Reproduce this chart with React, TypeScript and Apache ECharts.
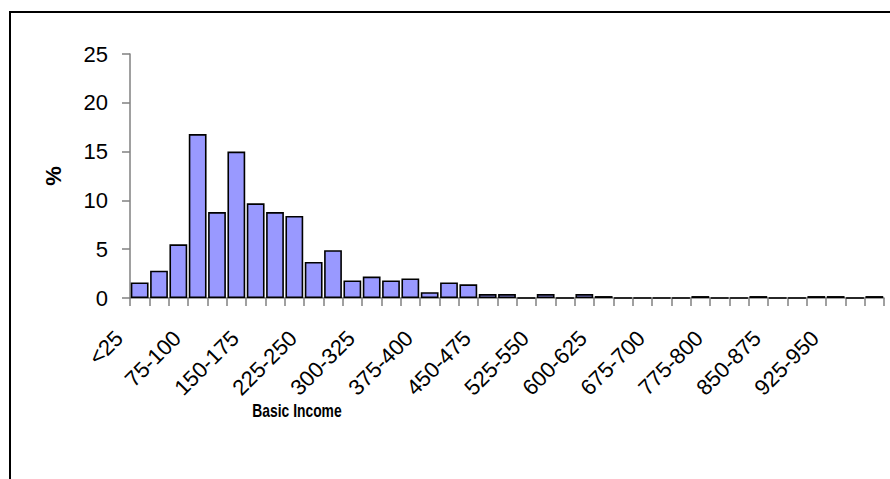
import React, { useEffect, useRef } from "react";
import * as echarts from "echarts";

// Income bands (every band is 25 wide; one band between 700 and 775 is not reported)
const categories: string[] = [
  "<25", "25-50", "50-75", "75-100", "100-125", "125-150", "150-175", "175-200",
  "200-225", "225-250", "250-275", "275-300", "300-325", "325-350", "350-375",
  "375-400", "400-425", "425-450", "450-475", "475-500", "500-525", "525-550",
  "550-575", "575-600", "600-625", "625-650", "650-675", "675-700", "725-750",
  "750-775", "775-800", "800-825", "825-850", "850-875", "875-900", "900-925",
  "925-950", "950-975", "975-1000",
];

// Share of recipients in each band, %
const shares: number[] = [
  1.6, 2.8, 5.5, 16.8, 8.8, 15.0, 9.7, 8.8,
  8.4, 3.7, 4.9, 1.8, 2.2, 1.8, 2.0,
  0.6, 1.6, 1.4, 0.4, 0.4, 0, 0.4,
  0, 0.4, 0.2, 0, 0, 0, 0,
  0.2, 0, 0, 0.2, 0, 0, 0.2,
  0.2, 0, 0.2,
];

const yTicks = { min: 0, max: 25, interval: 5 };
const xTitle = "Basic Income";
const yTitle = "%";

const FONT = "'Liberation Sans', Arial, Helvetica, sans-serif";

export default function App() {
  const ref = useRef<HTMLDivElement>(null);

  useEffect(() => {
    if (!ref.current) return;
    const chart = echarts.init(ref.current, null, { renderer: "svg" });
    chart.setOption({
      animation: false,
      backgroundColor: "#ffffff",
      grid: { left: 130, right: 6, top: 54, bottom: 181, containLabel: false },
      xAxis: {
        type: "category",
        data: categories,
        boundaryGap: true,
        axisLine: { show: true, lineStyle: { color: "#808080", width: 1.5 } },
        axisTick: {
          show: true,
          alignWithLabel: false,
          interval: 0,
          length: 8,
          lineStyle: { color: "#808080", width: 1.5 },
        },
        axisLabel: {
          interval: 2,
          rotate: 45,
          margin: 16,
          padding: [0, 29, 0, 0],
          color: "#000",
          fontFamily: FONT,
          fontSize: 22,
        },
        splitLine: { show: false },
      },
      yAxis: {
        type: "value",
        min: yTicks.min,
        max: yTicks.max,
        interval: yTicks.interval,
        name: yTitle,
        nameLocation: "middle",
        nameGap: 66,
        nameRotate: 90,
        nameTextStyle: { fontFamily: FONT, fontSize: 22, fontWeight: "bold", color: "#000" },
        axisLine: { show: true, lineStyle: { color: "#808080", width: 1.5 } },
        axisTick: { show: true, inside: false, length: 8, lineStyle: { color: "#808080", width: 1.5 } },
        axisLabel: { margin: 22, color: "#000", fontFamily: FONT, fontSize: 22 },
        splitLine: { show: false },
      },
      series: [
        {
          type: "bar",
          data: shares,
          barCategoryGap: "8%",
          itemStyle: { color: "#9999FF", borderColor: "#000", borderWidth: 1.6 },
        },
      ],
      graphic: [
        {
          type: "rect",
          shape: { x: 10, y: 12, width: 900, height: 500 },
          style: { fill: "none", stroke: "#000", lineWidth: 2 },
          silent: true,
        },
        {
          type: "text",
          x: 297,
          y: 410,
          scaleX: 0.77,
          style: {
            text: xTitle,
            fontFamily: FONT,
            fontSize: 18,
            fontWeight: "bold",
            fill: "#000",
            align: "center",
            verticalAlign: "middle",
          },
        },
      ],
    });
    return () => chart.dispose();
  }, []);

  return (
    <div
      ref={ref}
      style={{ position: "fixed", left: 0, top: 0, width: 890, height: 479, background: "#fff" }}
    />
  );
}
